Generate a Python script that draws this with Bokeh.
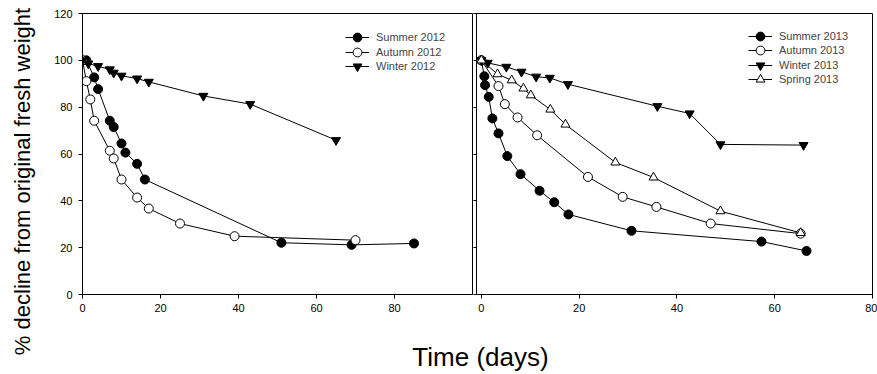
from math import pi
from bokeh.plotting import figure
from bokeh.models import Legend, LegendItem, Label, FixedTicker, Range1d
from bokeh.layouts import row, column
from bokeh.embed import file_html
from bokeh.resources import INLINE

FONT = "Liberation Sans"

# ---- data: left panel (2012) ----
summer12_x = [0, 1, 3, 4, 7, 8, 10, 11, 14, 16, 51, 69, 85]
summer12_y = [100, 100, 92.7, 87.7, 74.2, 71.5, 64.5, 60.6, 55.8, 49.1, 22.1, 21.2, 21.8]
autumn12_x = [0, 1, 2, 3, 7, 8, 10, 14, 17, 25, 39, 70]
autumn12_y = [100, 91.1, 83.3, 74.2, 61.4, 58.1, 49.1, 41.4, 36.7, 30.3, 24.9, 23.2]
winter12_x = [0, 1.5, 4, 7, 8, 10, 14, 17, 31, 43, 65]
winter12_y = [100, 98.6, 97.5, 96.1, 94.7, 93.4, 92.2, 90.8, 84.8, 81.3, 65.9]

# ---- data: right panel (2013) ----
summer13_x = [0, 0.6, 0.75, 1.5, 2.25, 3.5, 5.3, 8.0, 11.9, 14.9, 17.8, 30.7, 57.3, 66.5]
summer13_y = [100, 93.2, 89.4, 84.4, 75.2, 68.8, 59.1, 51.4, 44.3, 39.4, 34.2, 27.2, 22.6, 18.6]
autumn13_x = [0, 3.5, 4.8, 7.4, 11.4, 21.8, 28.9, 35.8, 46.9, 65.3]
autumn13_y = [100, 89.0, 81.3, 75.6, 68.0, 50.2, 41.7, 37.4, 30.3, 26.0]
winter13_x = [0, 1.3, 5.1, 8.2, 11.2, 14.0, 17.7, 36.0, 42.6, 48.9, 65.9]
winter13_y = [100, 98.9, 97.2, 95.1, 93.0, 92.5, 89.8, 80.4, 77.3, 64.1, 63.8]
spring13_x = [0, 3.3, 6.2, 8.6, 10.1, 14.1, 17.2, 27.4, 35.2, 48.9, 65.3]
spring13_y = [100, 94.1, 91.5, 88.0, 85.1, 79.0, 72.6, 56.4, 50.0, 35.6, 26.3]

y_ticks = [0, 20, 40, 60, 80, 100, 120]
x_ticks_left = [0, 20, 40, 60, 80]
x_ticks_right = [0, 20, 40, 60, 80]

Y_LABEL = "% decline from original fresh weight"
X_LABEL = "Time (days)"


def make_panel(width, xr, xticks, bl, br, ylabels):
    p = figure(width=width, height=320, x_range=Range1d(*xr), y_range=Range1d(0, 120),
               output_backend="svg", toolbar_location=None,
               min_border_left=bl, min_border_right=br, min_border_top=13, min_border_bottom=26)
    p.xgrid.visible = False
    p.ygrid.visible = False
    p.outline_line_color = "black"
    p.outline_line_alpha = 1
    p.outline_line_width = 1
    p.background_fill_color = "white"
    p.border_fill_color = "white"
    p.xaxis.ticker = FixedTicker(ticks=xticks)
    p.yaxis.ticker = FixedTicker(ticks=y_ticks)
    for ax in [p.xaxis[0], p.yaxis[0]]:
        ax.axis_line_color = "black"
        ax.major_tick_line_color = "black"
        ax.minor_tick_line_color = None
        ax.major_tick_in = 0
        ax.major_tick_out = 4
        ax.major_label_text_font = FONT
        ax.major_label_text_font_size = "11px"
        ax.major_label_text_color = "black"
    p.xaxis.major_label_standoff = 5
    p.yaxis.major_label_standoff = 6
    if not ylabels:
        p.yaxis.major_tick_out = 3
        p.yaxis.major_label_standoff = 0
        p.yaxis.major_label_overrides = {t: "" for t in y_ticks}
    return p


def add_series(p, xs, ys, marker, fill):
    ln = p.line(xs, ys, line_color="black", line_width=1)
    sc = p.scatter(xs, ys, marker=marker, size=9, line_color="black",
                   fill_color=fill, line_width=1)
    return [ln, sc]


def add_legend(p, items, x0, top_center, step):
    # one single-entry legend per series, stacked with a fixed row step
    for i, (lab, r) in enumerate(items):
        center = top_center + step * i
        leg = Legend(items=[LegendItem(label=lab, renderers=r)],
                     location=(x0, 281 - (center + 11)), padding=0, margin=0, spacing=0,
                     glyph_width=24, glyph_height=22, label_height=22, label_standoff=7,
                     label_text_font=FONT, label_text_font_size="11px",
                     border_line_alpha=0, background_fill_alpha=0)
        p.add_layout(leg)


p1 = make_panel(429, (0, 100), x_ticks_left, 38, 1, True)
r_s12 = add_series(p1, summer12_x, summer12_y, "circle", "black")
r_a12 = add_series(p1, autumn12_x, autumn12_y, "circle", "white")
r_w12 = add_series(p1, winter12_x, winter12_y, "inverted_triangle", "black")
add_legend(p1, [("Summer 2012", r_s12), ("Autumn 2012", r_a12), ("Winter 2012", r_w12)],
           263, 24, 14.5)

p2 = make_panel(404, (-1, 80), x_ticks_right, 3, 5, False)
r_s13 = add_series(p2, summer13_x, summer13_y, "circle", "black")
r_a13 = add_series(p2, autumn13_x, autumn13_y, "circle", "white")
r_w13 = add_series(p2, winter13_x, winter13_y, "inverted_triangle", "black")
r_sp13 = add_series(p2, spring13_x, spring13_y, "triangle", "white")
add_legend(p2, [("Summer 2013", r_s13), ("Autumn 2013", r_a13),
                ("Winter 2013", r_w13), ("Spring 2013", r_sp13)],
           272, 23, 14.3)


def label_fig(w, h):
    f = figure(width=w, height=h, x_range=Range1d(0, 1), y_range=Range1d(0, 1),
               output_backend="svg", toolbar_location=None,
               x_axis_location=None, y_axis_location=None, min_border=0)
    f.grid.visible = False
    f.outline_line_color = None
    return f


ylab = label_fig(44, 374)
ylab.add_layout(Label(x=22, y=193, x_units="screen", y_units="screen", text=Y_LABEL,
                      angle=pi / 2, text_align="center", text_baseline="middle",
                      text_font=FONT, text_font_size="22px", text_color="black"))

xlab = label_fig(833, 54)
xlab.add_layout(Label(x=436, y=18, x_units="screen", y_units="screen", text=X_LABEL,
                      text_align="center", text_baseline="middle",
                      text_font=FONT, text_font_size="26px", text_color="black"))

layout = row(ylab, column(row(p1, p2), xlab))

open("out.html", "w").write(file_html(layout, INLINE))
